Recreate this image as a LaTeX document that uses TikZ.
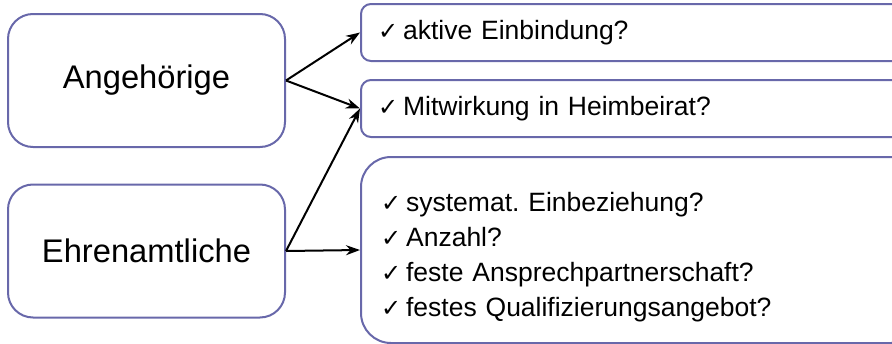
\documentclass[tikz,border=0pt]{standalone}
\usepackage{fontspec}
\setmainfont{Liberation Sans}
\newfontfamily\checkfont{DejaVu Sans}
\usetikzlibrary{arrows.meta}
\frenchspacing
\definecolor{boxline}{RGB}{104,104,170}
\newcommand{\chk}{{\checkfont\fontsize{24}{24}\selectfont ✓}\hspace{5pt}}
\tikzset{
  leftbox/.style={draw=boxline, line width=2pt, rounded corners=25pt,
    minimum width=277pt, minimum height=133pt, font=\fontsize{32.7}{38}\selectfont},
  qbox/.style={draw=boxline, line width=2pt, rounded corners=10pt, anchor=west,
    text width=526pt, inner xsep=17pt, inner ysep=0pt, minimum height=57pt, align=left,
    font=\fontsize{26.5}{35}\selectfont},
  bigbox/.style={qbox, rounded corners=30pt, text width=520pt, inner xsep=20pt,
    minimum height=186pt},
  link/.style={-{Stealth[length=14pt,width=10pt]}, line width=2pt}
}
\begin{document}
\begin{tikzpicture}[x=1pt, y=-1pt]
  \useasboundingbox (0,0) rectangle (892,343);
  % left side
  \node[leftbox] (ang) at (146.5,80.5) {Angehörige};
  \node[leftbox] (ehr) at (146.5,251) {Ehrenamtliche};

  % questions
  \node[qbox] (q1) at (360,32.5) {\chk aktive Einbindung?};
  \node[qbox] (q2) at (360,108.5) {\chk Mitwirkung in Heimbeirat?};
  \node[bigbox] (q3) at (360,250) {\rule{0pt}{34pt}\chk systemat. Einbeziehung?\\
    \chk Anzahl?\\
    \chk feste Ansprechpartnerschaft?\\
    \chk festes Qualifizierungsangebot?};

  \draw[link] (ang.east) -- (q1.west);
  \draw[link] (ang.east) -- (q2.west);
  \draw[link] (ehr.east) -- (q2.west);
  \draw[link] (ehr.east) -- (q3.west);
\end{tikzpicture}
\end{document}
